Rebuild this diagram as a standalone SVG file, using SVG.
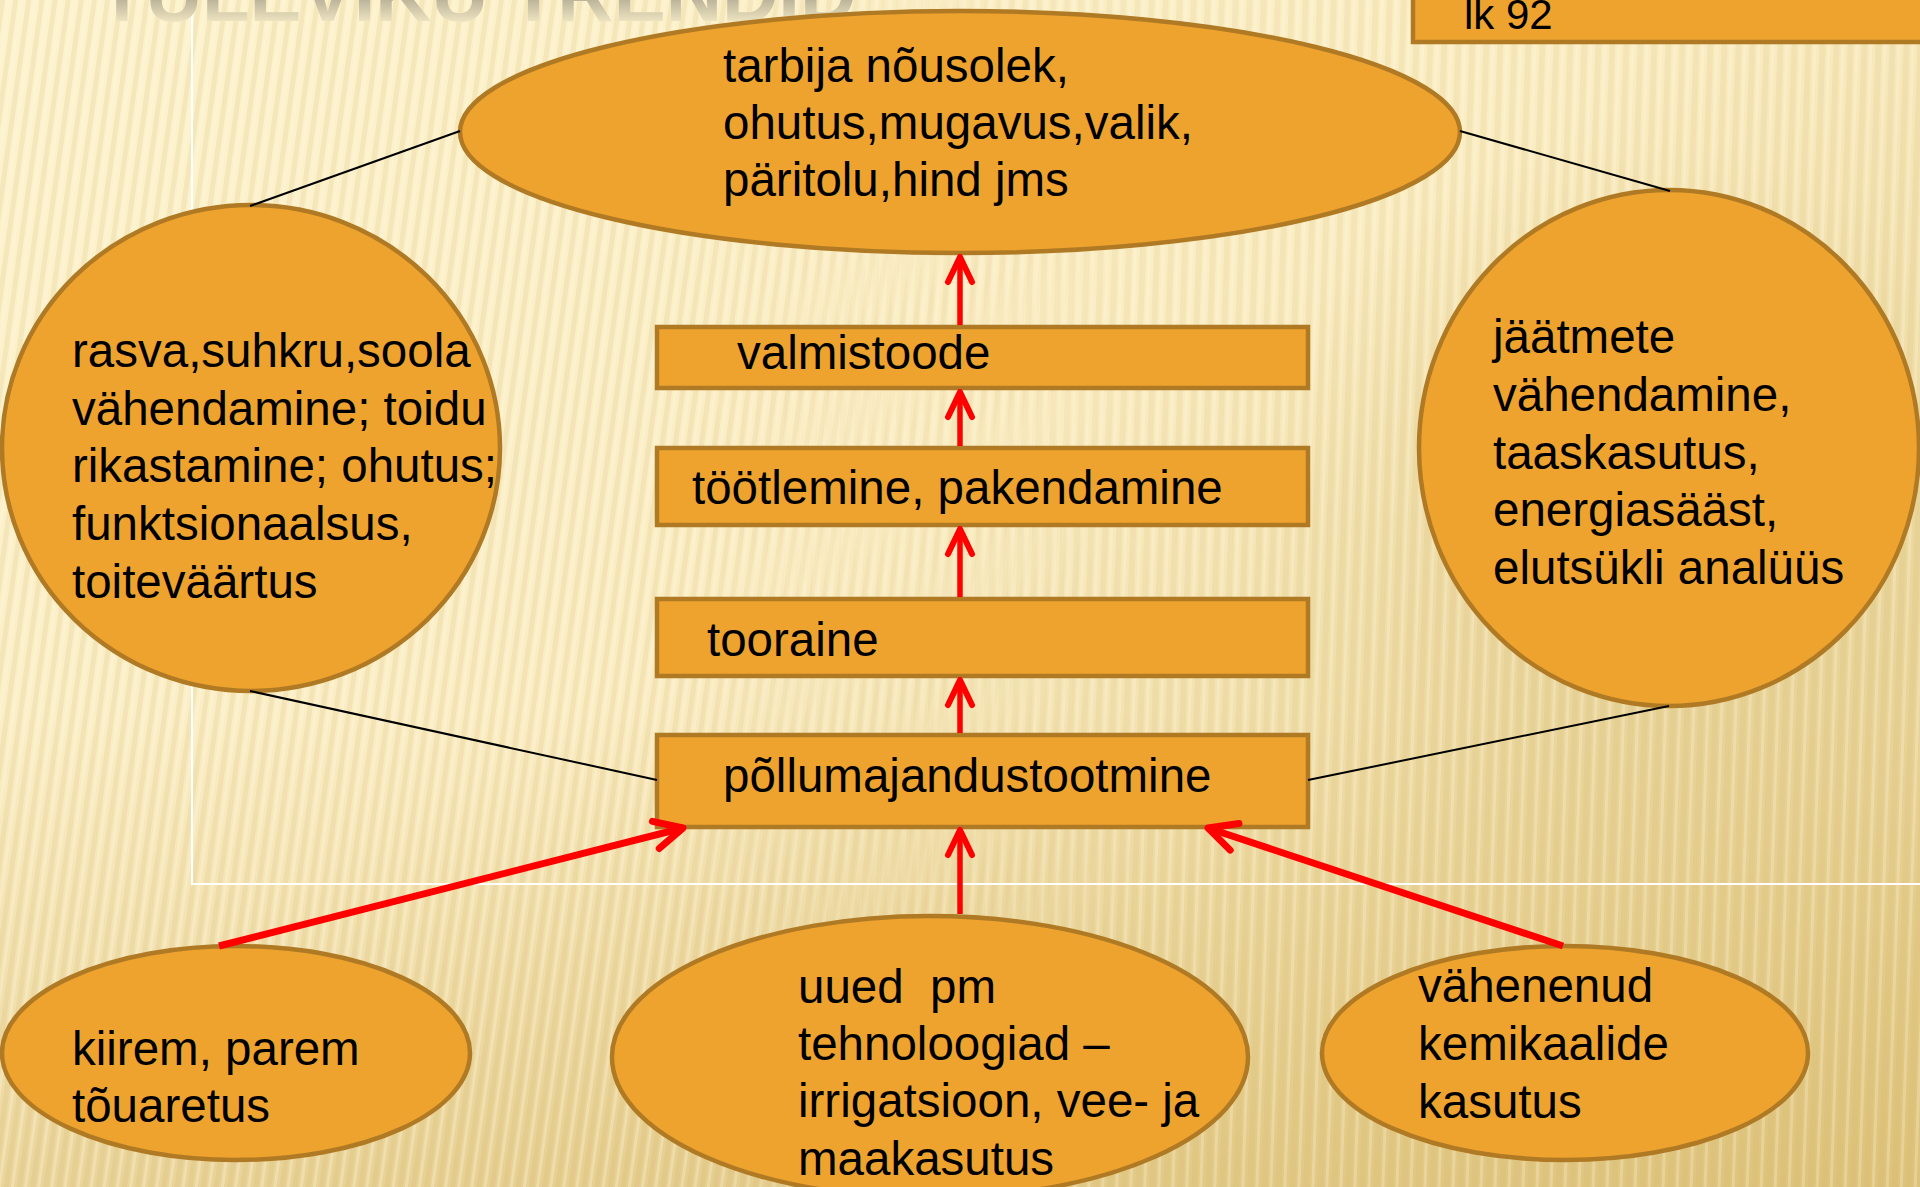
<svg xmlns="http://www.w3.org/2000/svg" width="1920" height="1187" viewBox="0 0 1920 1187">
<defs>
<style>
.shape{fill:#EEA32F;stroke:#B07A25;stroke-width:4.5}
.t{font-family:"Liberation Sans",Arial,sans-serif;font-size:47.5px;fill:#000;white-space:pre}
.link{stroke:#000;stroke-width:2;fill:none}
.arr{stroke:#FF0000;stroke-width:5.5;fill:none;marker-end:url(#head)}
.arr.diag{stroke-width:7;marker-end:url(#headBig)}
</style>
<marker id="head" markerUnits="userSpaceOnUse" viewBox="-30 -16 36 32" refX="0" refY="0" markerWidth="36" markerHeight="32" orient="auto" overflow="visible">
<path d="M-25,-12 L0,0 L-25,12" fill="none" stroke="#FF0000" stroke-width="6" stroke-linecap="round" stroke-linejoin="round"/>
</marker>
<marker id="headBig" markerUnits="userSpaceOnUse" viewBox="-34 -18 40 36" refX="0" refY="0" markerWidth="40" markerHeight="36" orient="auto" overflow="visible">
<path d="M-28,-14 L0,0 L-28,14" fill="none" stroke="#FF0000" stroke-width="7" stroke-linecap="round" stroke-linejoin="round"/>
</marker>
<linearGradient id="bg" x1="0" y1="0" x2="1" y2="1">
<stop offset="0" stop-color="#FDF3CC"/>
<stop offset="0.45" stop-color="#FBEDC2"/>
<stop offset="1" stop-color="#E2C883"/>
</linearGradient>
<linearGradient id="bottomShade" x1="0" y1="0" x2="0" y2="1">
<stop offset="0.6" stop-color="#D9BB6E" stop-opacity="0"/>
<stop offset="1" stop-color="#D9BB6E" stop-opacity="0.45"/>
</linearGradient>
<radialGradient id="band" cx="1650" cy="560" r="420" gradientUnits="userSpaceOnUse">
<stop offset="0" stop-color="#D8BE77" stop-opacity="0.35"/>
<stop offset="1" stop-color="#D8BE77" stop-opacity="0"/>
</radialGradient>
<pattern id="stripesL" width="13" height="40" patternUnits="userSpaceOnUse" patternTransform="rotate(8)">
<rect x="0" y="0" width="5" height="40" fill="#C9AE6A" opacity="0.14"/>
<rect x="7" y="0" width="3" height="40" fill="#FFFBEA" opacity="0.3"/>
</pattern>
<pattern id="stripesR" width="14" height="40" patternUnits="userSpaceOnUse" patternTransform="rotate(2)">
<rect x="0" y="0" width="6" height="40" fill="#C9AE6A" opacity="0.13"/>
<rect x="8" y="0" width="3" height="40" fill="#FFFBEA" opacity="0.25"/>
</pattern>
<linearGradient id="fadeL" x1="0" y1="0" x2="1" y2="0">
<stop offset="0.35" stop-color="#fff" stop-opacity="1"/>
<stop offset="0.6" stop-color="#fff" stop-opacity="0"/>
</linearGradient>
<mask id="maskL"><rect width="1920" height="1187" fill="url(#fadeL)"/></mask>
<linearGradient id="fadeR" x1="0" y1="0" x2="1" y2="0">
<stop offset="0.35" stop-color="#fff" stop-opacity="0"/>
<stop offset="0.6" stop-color="#fff" stop-opacity="1"/>
</linearGradient>
<mask id="maskR"><rect width="1920" height="1187" fill="url(#fadeR)"/></mask>
<linearGradient id="titleGrad" x1="0" y1="-45" x2="0" y2="24" gradientUnits="userSpaceOnUse">
<stop offset="0" stop-color="#8A8474"/>
<stop offset="0.6" stop-color="#B5AD95"/>
<stop offset="1" stop-color="#F3E9C4"/>
</linearGradient>
</defs>

<g id="background">
<rect width="1920" height="1187" fill="url(#bg)"/>
<rect width="1920" height="1187" fill="url(#band)"/>
<rect width="1920" height="1187" fill="url(#bottomShade)"/>
<rect width="1920" height="1187" fill="url(#stripesL)" mask="url(#maskL)"/>
<rect width="1920" height="1187" fill="url(#stripesR)" mask="url(#maskR)"/>
<rect x="192" y="-10" width="1800" height="894" fill="none" stroke="#FFFFFF" stroke-width="2"/>
<text x="98" y="21" font-family="Liberation Sans,Arial,sans-serif" font-weight="bold" font-size="78" fill="url(#titleGrad)">TULEVIKU TRENDID</text>
</g>

<g id="node-lk92">
<rect class="shape" x="1413" y="-10" width="520" height="52"/>
<text class="t" x="1464" y="29" style="font-size:42px">lk 92</text>
</g>

<g id="node-tarbija">
<ellipse class="shape" cx="960" cy="132" rx="500" ry="121"/>
<text class="t" x="723" y="82">tarbija nõusolek,</text>
<text class="t" x="723" y="139">ohutus,mugavus,valik,</text>
<text class="t" x="723" y="196">päritolu,hind jms</text>
</g>

<g id="node-rasva">
<ellipse class="shape" cx="251" cy="448" rx="249" ry="243"/>
<text class="t" x="72" y="367">rasva,suhkru,soola</text>
<text class="t" x="72" y="425">vähendamine; toidu</text>
<text class="t" x="72" y="482">rikastamine; ohutus;</text>
<text class="t" x="72" y="540">funktsionaalsus,</text>
<text class="t" x="72" y="598">toiteväärtus</text>
</g>

<g id="node-jaatmete">
<ellipse class="shape" cx="1669" cy="448" rx="250" ry="258"/>
<text class="t" x="1493" y="353">jäätmete</text>
<text class="t" x="1493" y="411">vähendamine,</text>
<text class="t" x="1493" y="469">taaskasutus,</text>
<text class="t" x="1493" y="526">energiasääst,</text>
<text class="t" x="1493" y="584">elutsükli analüüs</text>
</g>

<g id="node-valmistoode">
<rect class="shape" x="657" y="327" width="651" height="61"/>
<text class="t" x="737" y="369">valmistoode</text>
</g>

<g id="node-tootlemine">
<rect class="shape" x="657" y="448" width="651" height="77"/>
<text class="t" x="692" y="504">töötlemine, pakendamine</text>
</g>

<g id="node-tooraine">
<rect class="shape" x="657" y="599" width="651" height="77"/>
<text class="t" x="707" y="656">tooraine</text>
</g>

<g id="node-pollumajandus">
<rect class="shape" x="657" y="735" width="651" height="92"/>
<text class="t" x="723" y="792">põllumajandustootmine</text>
</g>

<g id="node-kiirem">
<ellipse class="shape" cx="236" cy="1053" rx="234" ry="107"/>
<text class="t" x="72" y="1065">kiirem, parem</text>
<text class="t" x="72" y="1122">tõuaretus</text>
</g>

<g id="node-uued">
<ellipse class="shape" cx="930" cy="1057" rx="318" ry="141"/>
<text class="t" x="798" y="1003">uued  pm</text>
<text class="t" x="798" y="1060">tehnoloogiad –</text>
<text class="t" x="798" y="1117">irrigatsioon, vee- ja</text>
<text class="t" x="798" y="1175">maakasutus</text>
</g>

<g id="node-vahenenud">
<ellipse class="shape" cx="1565" cy="1053" rx="243" ry="107"/>
<text class="t" x="1418" y="1002">vähenenud</text>
<text class="t" x="1418" y="1060">kemikaalide</text>
<text class="t" x="1418" y="1118">kasutus</text>
</g>

<g id="connectors">
<line class="link" x1="250" y1="206" x2="460" y2="131"/>
<line class="link" x1="1460" y1="131" x2="1670" y2="191"/>
<line class="link" x1="250" y1="691" x2="657" y2="780"/>
<line class="link" x1="1669" y1="706" x2="1308" y2="780"/>
<line class="arr" x1="960" y1="325" x2="960" y2="257"/>
<line class="arr" x1="960" y1="446" x2="960" y2="392"/>
<line class="arr" x1="960" y1="597" x2="960" y2="529"/>
<line class="arr" x1="960" y1="733" x2="960" y2="680"/>
<line class="arr" x1="960" y1="914" x2="960" y2="830"/>
<line class="arr diag" x1="219" y1="946" x2="683" y2="828"/>
<line class="arr diag" x1="1563" y1="946" x2="1208" y2="828"/>
</g>
</svg>
